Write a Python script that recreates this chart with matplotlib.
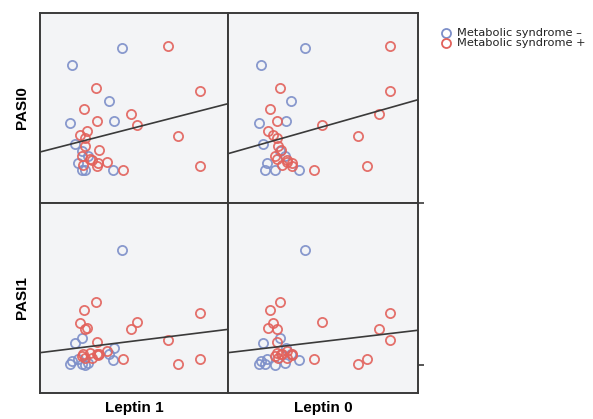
import matplotlib
matplotlib.use("Agg")
import matplotlib.pyplot as plt
from matplotlib.lines import Line2D
import numpy as np

# ---- data (arbitrary units) ----
group = ["-"] * 12 + ["+"] * 22
leptin1 = [24.7, 9.7, 20.6, 9.0, 22.2, 10.5, 12.5, 11.5, 12.5, 22.0, 14.5, 13.5,
           38.5, 16.8, 48.0, 13.2, 17.2, 27.2, 29.2, 41.5, 14.0, 12.0, 13.5, 17.8,
           15.0, 17.5, 20.0, 13.0, 24.8, 48.0, 17.0, 13.5, 12.5, 15.5]
leptin0 = [23.1, 10.0, 18.8, 9.2, 17.4, 10.4, 15.6, 11.6, 11.1, 21.4, 17.1, 14.1,
           48.6, 15.6, 48.6, 12.6, 14.6, 45.4, 28.1, 38.9, 11.9, 13.6, 15.1, 15.8,
           14.6, 19.1, 17.6, 16.1, 25.8, 41.8, 19.1, 14.8, 14.1, 17.6]
pasi0 = [46.5, 41.5, 30.5, 24.0, 24.5, 17.8, 15.5, 12.0, 9.8, 9.8, 14.0, 10.0,
         47.0, 34.5, 33.5, 28.2, 24.5, 26.7, 23.3, 20.2, 21.5, 20.5, 17.0, 16.0,
         13.2, 12.0, 12.3, 11.5, 9.8, 11.2, 11.0, 19.5, 14.0, 13.0]
pasi1 = [42.9, 9.6, 11.8, 8.6, 13.6, 15.1, 16.6, 10.1, 8.6, 9.8, 9.1, 8.4,
         15.9, 27.3, 24.1, 24.8, 15.4, 19.1, 21.3, 8.8, 19.4, 20.9, 10.6, 11.6,
         12.1, 11.3, 12.6, 11.6, 10.1, 10.1, 11.8, 19.1, 11.1, 10.6]

# fit lines: (intercept, slope) per panel
fit_lines = {
    ("Leptin 1", "PASI0"): (15.3, 0.257),
    ("Leptin 0", "PASI0"): (14.8, 0.284),
    ("Leptin 1", "PASI1"): (12.1, 0.124),
    ("Leptin 0", "PASI1"): (12.1, 0.118),
}

x_vars = {"Leptin 1": leptin1, "Leptin 0": leptin0}
y_vars = {"PASI0": pasi0, "PASI1": pasi1}
col_names = ["Leptin 1", "Leptin 0"]
row_names = ["PASI0", "PASI1"]
legend_labels = ["Metabolic syndrome \u2013", "Metabolic syndrome +"]

colors = {"-": "#7d8fc9", "+": "#e2625c"}
face = "#f3f4f6"
frame = "#3a3a3a"

W, H = 593, 419
fig = plt.figure(figsize=(W / 100, H / 100), dpi=100)
plt.rcParams["font.family"] = ["Liberation Sans", "DejaVu Sans"]

lefts = [40, 228]
widths = [188, 190]
tops = [13, 203]
height = 190

g = np.array(group)
for r, rn in enumerate(row_names):
    for c, cn in enumerate(col_names):
        ax = fig.add_axes([lefts[c] / W, 1 - (tops[r] + height) / H, widths[c] / W, height / H])
        ax.set_facecolor(face)
        x = np.array(x_vars[cn])
        y = np.array(y_vars[rn])
        for key in ["-", "+"]:
            m = g == key
            ax.plot(x[m], y[m], "o", ms=6.6, mfc="none", mec=colors[key], mew=1.3,
                    alpha=0.9, zorder=3)
        b0, b1 = fit_lines[(cn, rn)]
        xx = np.array([0, 57.0])
        ax.plot(xx, b0 + b1 * xx, color="#3a3a3a", lw=1.2, zorder=4)
        ax.set_xlim(0, 56.4 if c == 0 else 57.0)
        ax.set_ylim(0, 57.0)
        ax.set_xticks([])
        ax.set_yticks([])
        for s in ax.spines.values():
            s.set_color(frame)
            s.set_linewidth(1.4)
        if r == 1:
            ax.set_xlabel(cn, fontsize=11, fontweight="bold", labelpad=6)
        if c == 0:
            ax.set_ylabel(rn, fontsize=11, fontweight="bold", labelpad=8)
        if r == 1 and c == 1:
            ax.yaxis.tick_right()
            ax.set_yticks([8.4, 57.0])
            ax.set_yticklabels([])
            ax.tick_params(axis="y", direction="out", length=4, width=1.2, color=frame)

# legend drawn as marker + text in figure pixels
leg_y = [33, 43]
for k, lab, yy in zip(["-", "+"], legend_labels, leg_y):
    fig.add_artist(Line2D([446 / W], [1 - yy / H], ls="none", marker="o", ms=6.5,
                          mfc="none", mec=colors[k], mew=1.3, transform=fig.transFigure))
    fig.text(457 / W, 1 - yy / H, lab, fontsize=8.2, va="center", ha="left",
             color="#222222", family="DejaVu Sans")

fig.savefig("out.png", dpi=100)
